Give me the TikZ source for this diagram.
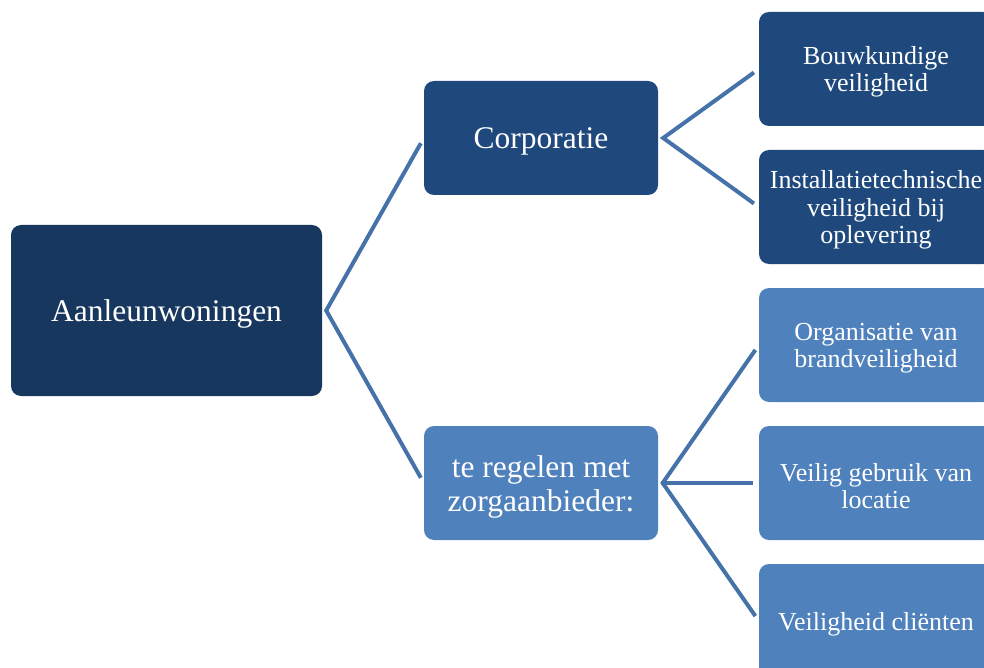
\documentclass[tikz,border=0pt]{standalone}
\usepackage{fontspec}
\setmainfont{Liberation Serif}
\definecolor{rootc}{HTML}{17375E}
\definecolor{darkc}{HTML}{1F497D}
\definecolor{lightc}{HTML}{4F81BD}
\definecolor{linec}{HTML}{4672AA}
\tikzset{
  box/.style={rectangle, rounded corners=10pt, draw=none, inner sep=0pt,
    minimum width=234pt, minimum height=114pt},
  lbl/.style={text=white, align=center, inner sep=0pt},
  bigtxt/.style={font=\fontsize{31.5}{34}\selectfont},
  smalltxt/.style={font=\fontsize{26}{27.5}\selectfont},
  conn/.style={draw=linec, line width=4pt, line cap=butt, line join=miter}
}
\begin{document}
\begin{tikzpicture}[x=1pt,y=-1pt]
\useasboundingbox (0,0) rectangle (984,668);
\clip (0,0) rectangle (984,668);
\node[box, fill=rootc, minimum width=311pt, minimum height=171pt] (root) at (166.5,310.5) {};
\node[box, fill=darkc] (corp) at (541,138) {};
\node[box, fill=lightc] (zorg) at (541,483) {};
\node[box, fill=darkc] (bouw) at (876,69) {};
\node[box, fill=darkc] (inst) at (876,207) {};
\node[box, fill=lightc] (org) at (876,345) {};
\node[box, fill=lightc] (gebr) at (876,483) {};
\node[box, fill=lightc] (cli) at (876,621) {};
\node[lbl, bigtxt] (roott) at ([yshift=-3.5pt]root.center) {Aanleunwoningen};
\node[lbl, bigtxt] (corpt) at ([yshift=-3.5pt]corp.center) {Corporatie};
\node[lbl, bigtxt] (zorgt) at ([yshift=-4pt]zorg.center) {te regelen met\\zorgaanbieder:};
\node[lbl, smalltxt] (bouwt) at ([yshift=-3pt]bouw.center) {Bouwkundige\\veiligheid};
\node[lbl, smalltxt] (instt) at ([yshift=-3pt]inst.center) {Installatietechnische\\veiligheid bij\\oplevering};
\node[lbl, smalltxt] (orgt) at ([yshift=-3pt]org.center) {Organisatie van\\brandveiligheid};
\node[lbl, smalltxt] (gebrt) at ([yshift=-3pt]gebr.center) {Veilig gebruik van\\locatie};
\node[lbl, smalltxt] (clit) at ([yshift=-3pt]cli.center) {Veiligheid cliënten};
\coordinate (rj) at ([xshift=4pt]root.east);
\coordinate (cj) at ([xshift=5pt]corp.east);
\coordinate (zj) at ([xshift=4.5pt]zorg.east);
\draw[conn, shorten <=6pt, shorten >=6pt] (corp.west) -- (rj) -- (zorg.west);
\draw[conn, shorten <=6pt, shorten >=6pt] (bouw.west) -- (cj) -- (inst.west);
\draw[conn, shorten <=6pt, shorten >=6pt] (org.west) -- (zj) -- (cli.west);
\draw[conn, shorten >=6pt] ([xshift=-2pt]zj) -- (gebr.west);
\end{tikzpicture}
\end{document}
